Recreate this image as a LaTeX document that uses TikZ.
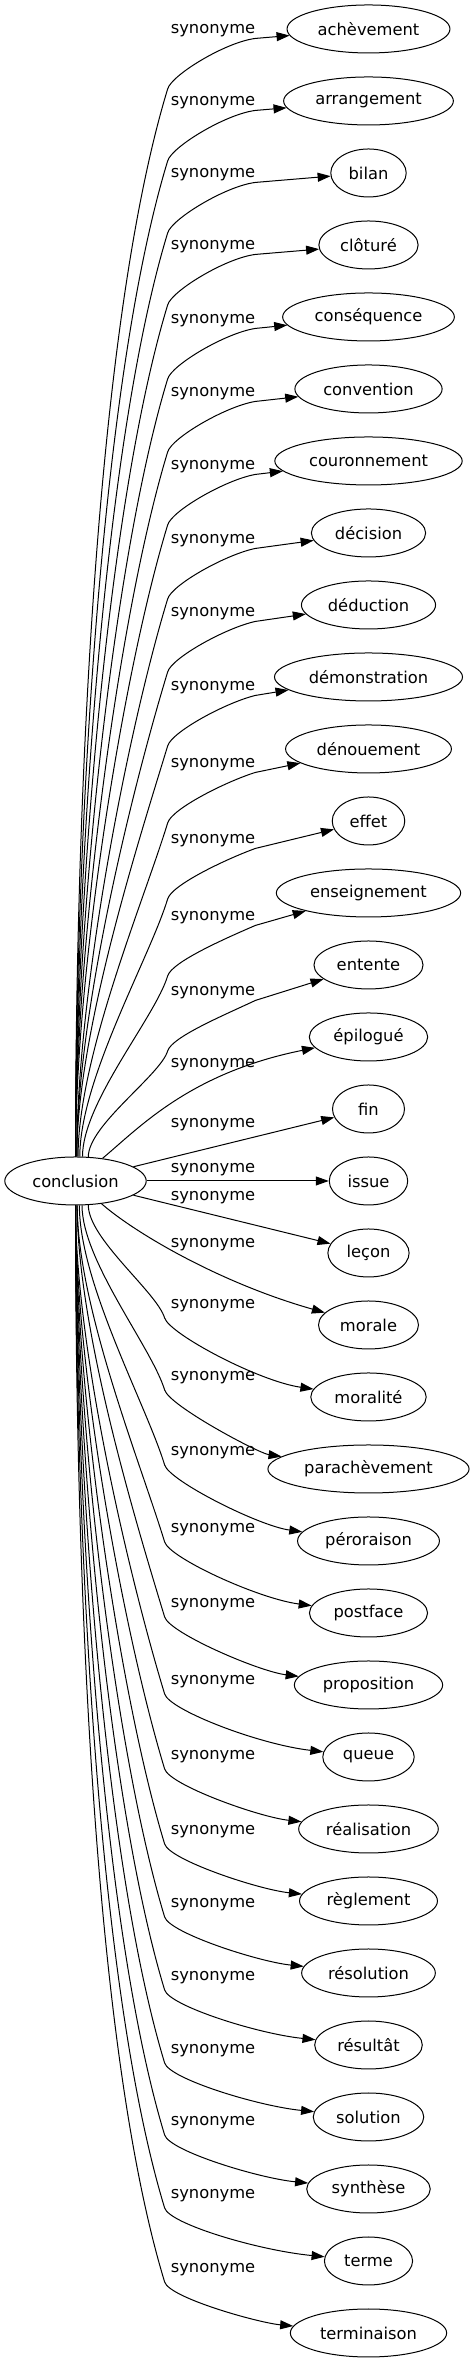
\documentclass[tikz,border=0pt]{standalone}
\usepackage{fontspec}
\setmainfont{DejaVu Sans}
\usetikzlibrary{arrows.meta,shapes.geometric,calc}

\begin{document}
\begin{tikzpicture}[x=1pt,y=1pt,font=\fontsize{16.3}{19}\selectfont]
\tikzstyle{fleche} = [line width=1pt,-{Triangle[length=13pt,width=9pt]}]
\tikzstyle{mot} = [draw,line width=1pt,ellipse,minimum width=72pt,minimum height=48pt,inner xsep=6.8pt,inner ysep=2pt]
\tikzstyle{etiquette} = [inner sep=0pt]
\tikzset{haut/.style={to path={let \p1=(\tikztostart), \p2=(\tikztotarget), \p3=(#1.south east), \p4=(#1.west),
      \p5=({\x4-3},{\y4-58}), \n1={\y5-\y1}, \n2={\y2-\y3+1} in
      .. controls (\x1,{\y1+0.3*\n1}) and ({\x5-0.07*\n1},{\y5-0.23*\n1}) .. (\p5)
      .. controls ({\x5+4},{\y5+14}) and ({\x3-30},{\y3-1-0.4*\n2}) .. (\x3,{\y3-1}) -- (\tikztotarget)}},
  bas/.style={to path={let \p1=(\tikztostart), \p2=(\tikztotarget), \p4=(#1.west),
      \p5=({\x4-6},{\y4-12}), \n1={\y1-\y5}, \n2={\y5-\y2} in
      .. controls (\x1,{\y1-0.3*\n1}) and ({\x5-0.07*\n1},{\y5+0.23*\n1}) .. (\p5)
      .. controls ({\x5+5},{\y5-16}) and ({\x2-110},{\y2+0.2*\n2}) .. (\tikztotarget)}}}
\useasboundingbox (0,0) rectangle (472,2363);
\node[mot] (c) at (75.5,1182) {conclusion};
\node[mot] (ach) at (368.5,2334) {achèvement};
\node[mot] (arr) at (368.5,2262) {arrangement};
\node[mot] (bil) at (368.5,2190) {bilan};
\node[mot] (clo) at (368.5,2118) {clôturé};
\node[mot] (cons) at (368.5,2046) {conséquence};
\node[mot] (conv) at (368.5,1974) {convention};
\node[mot] (cour) at (368.5,1902) {couronnement};
\node[mot] (deci) at (368.5,1830) {décision};
\node[mot] (dedu) at (368.5,1758) {déduction};
\node[mot] (demo) at (368.5,1686) {démonstration};
\node[mot] (deno) at (368.5,1614) {dénouement};
\node[mot] (eff) at (368.5,1542) {effet};
\node[mot] (ens) at (368.5,1470) {enseignement};
\node[mot] (ent) at (368.5,1398) {entente};
\node[mot] (epi) at (368.5,1326) {épilogué};
\node[mot] (fin) at (368.5,1254) {fin};
\node[mot] (iss) at (368.5,1182) {issue};
\node[mot] (lec) at (368.5,1110) {leçon};
\node[mot] (mor) at (368.5,1038) {morale};
\node[mot] (morl) at (368.5,966) {moralité};
\node[mot] (para) at (368.5,894) {parachèvement};
\node[mot] (pero) at (368.5,822) {péroraison};
\node[mot] (post) at (368.5,750) {postface};
\node[mot] (prop) at (368.5,678) {proposition};
\node[mot] (que) at (368.5,606) {queue};
\node[mot] (real) at (368.5,534) {réalisation};
\node[mot] (regl) at (368.5,462) {règlement};
\node[mot] (reso) at (368.5,390) {résolution};
\node[mot] (resu) at (368.5,318) {résultât};
\node[mot] (sol) at (368.5,246) {solution};
\node[mot] (synt) at (368.5,174) {synthèse};
\node[mot] (ter) at (368.5,102) {terme};
\node[mot] (term) at (368.5,30) {terminaison};
\node[etiquette] (s1) at (213,2332) {synonyme};
\node[etiquette] (s2) at (213,2260) {synonyme};
\node[etiquette] (s3) at (213,2188) {synonyme};
\node[etiquette] (s4) at (213,2116) {synonyme};
\node[etiquette] (s5) at (213,2042) {synonyme};
\node[etiquette] (s6) at (213,1969) {synonyme};
\node[etiquette] (s7) at (213,1896) {synonyme};
\node[etiquette] (s8) at (213,1822) {synonyme};
\node[etiquette] (s9) at (213,1749) {synonyme};
\node[etiquette] (s10) at (213,1675) {synonyme};
\node[etiquette] (s11) at (213,1598) {synonyme};
\node[etiquette] (s12) at (213,1522) {synonyme};
\node[etiquette] (s13) at (213,1445) {synonyme};
\node[etiquette] (s14) at (213,1370) {synonyme};
\node[etiquette] (s15) at (213,1298) {synonyme};
\node[etiquette] (s16) at (213,1238) {synonyme};
\node[etiquette] (s17) at (213,1193) {synonyme};
\node[etiquette] (s18) at (213,1165) {synonyme};
\node[etiquette] (s19) at (213,1118) {synonyme};
\node[etiquette] (s20) at (213,1057) {synonyme};
\node[etiquette] (s21) at (213,985) {synonyme};
\node[etiquette] (s22) at (213,910) {synonyme};
\node[etiquette] (s23) at (213,833) {synonyme};
\node[etiquette] (s24) at (213,758) {synonyme};
\node[etiquette] (s25) at (213,681) {synonyme};
\node[etiquette] (s26) at (213,606) {synonyme};
\node[etiquette] (s27) at (213,531) {synonyme};
\node[etiquette] (s28) at (213,458) {synonyme};
\node[etiquette] (s29) at (213,385) {synonyme};
\node[etiquette] (s30) at (213,312) {synonyme};
\node[etiquette] (s31) at (213,240) {synonyme};
\node[etiquette] (s32) at (213,167) {synonyme};
\node[etiquette] (s33) at (213,93) {synonyme};
\draw[fleche] (c.north) to[haut=s1] (ach);
\draw[fleche] (c.north) to[haut=s2] (arr);
\draw[fleche] (c.north) to[haut=s3] (bil);
\draw[fleche] (c.north) to[haut=s4] (clo);
\draw[fleche] (c.north) to[haut=s5] (cons);
\draw[fleche] (c.north) to[haut=s6] (conv);
\draw[fleche] (c.north) to[haut=s7] (cour);
\draw[fleche] (c.87) to[haut=s8] (deci);
\draw[fleche] (c.87) to[haut=s9] (dedu);
\draw[fleche] (c.87) to[haut=s10] (demo);
\draw[fleche] (c.84) to[haut=s11] (deno);
\draw[fleche] (c.80) to[haut=s12] (eff);
\draw[fleche] (c.74) to[haut=s13] (ens);
\draw[fleche] (c.62) to[haut=s14] (ent);
\draw[fleche] (c) .. controls (140,1236) and (190,1290) .. (epi);
\draw[fleche] (c) -- (fin);
\draw[fleche] (c) -- (iss);
\draw[fleche] (c) -- (lec);
\draw[fleche] (c) .. controls (135,1130) and (220,1080) .. (mor);
\draw[fleche] (c.-62) to[bas=s20] (morl);
\draw[fleche] (c.-75) to[bas=s21] (para);
\draw[fleche] (c.-81) to[bas=s22] (pero);
\draw[fleche] (c.-86) to[bas=s23] (post);
\draw[fleche] (c.-86) to[bas=s24] (prop);
\draw[fleche] (c.south) to[bas=s25] (que);
\draw[fleche] (c.south) to[bas=s26] (real);
\draw[fleche] (c.south) to[bas=s27] (regl);
\draw[fleche] (c.south) to[bas=s28] (reso);
\draw[fleche] (c.south) to[bas=s29] (resu);
\draw[fleche] (c.south) to[bas=s30] (sol);
\draw[fleche] (c.south) to[bas=s31] (synt);
\draw[fleche] (c.south) to[bas=s32] (ter);
\draw[fleche] (c.south) to[bas=s33] (term);
\end{tikzpicture}
\end{document}
